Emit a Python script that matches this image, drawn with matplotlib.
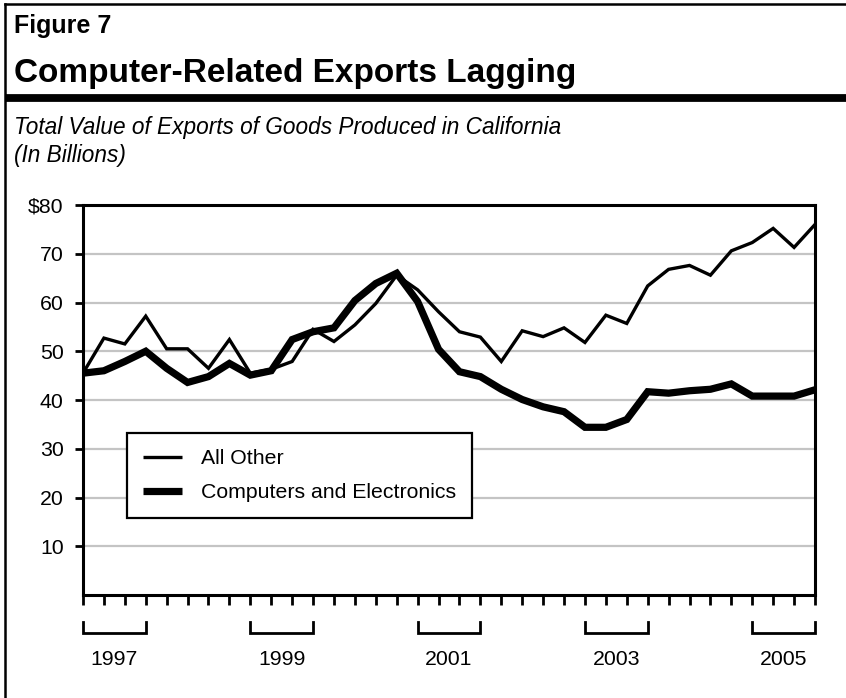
"""
Figure 7: computer-related exports lagging.

Quarterly value of California-produced exports, 1997 through 2005,
split into computers/electronics and everything else.
"""

import matplotlib
matplotlib.use("Agg")
import matplotlib.pyplot as plt
import matplotlib.transforms as mtransforms
from matplotlib.lines import Line2D

plt.rcParams['font.family'] = ['Liberation Sans', 'DejaVu Sans']

# Quarterly values, $ billions (1997 Q1 .. 2005 Q4)
years = [1997, 1998, 1999, 2000, 2001, 2002, 2003, 2004, 2005]
quarters = [f"{y} Q{q}" for y in years for q in range(1, 5)]

all_other = [
    45.5, 52.7, 51.5, 57.2,   # 1997
    50.5, 50.5, 46.5, 52.4,   # 1998
    45.5, 46.3, 47.9, 54.5,   # 1999
    52.0, 55.4, 59.8, 65.6,   # 2000
    62.6, 58.1, 54.0, 52.9,   # 2001
    47.9, 54.2, 53.0, 54.8,   # 2002
    51.8, 57.4, 55.7, 63.4,   # 2003
    66.8, 67.6, 65.6, 70.6,   # 2004
    72.3, 75.2, 71.3, 76.0,   # 2005
]

computers = [
    45.5, 46.0, 47.9, 50.0,
    46.5, 43.6, 44.8, 47.5,
    45.1, 46.0, 52.4, 54.0,
    54.8, 60.4, 63.9, 66.0,
    60.2, 50.4, 45.8, 44.8,
    42.2, 40.1, 38.6, 37.6,
    34.4, 34.4, 36.0, 41.7,
    41.4, 41.9, 42.2, 43.3,
    40.8, 40.8, 40.8, 42.1,
]

y_ticks = [10, 20, 30, 40, 50, 60, 70, 80]
y_tick_labels = ['10', '20', '30', '40', '50', '60', '70', '$80']
labelled_years = [1997, 1999, 2001, 2003, 2005]

W, H = 846, 698
fig = plt.figure(figsize=(W / 100, H / 100), dpi=100)

# --- frame and header -------------------------------------------------
fig.add_artist(Line2D([5 / W, 1], [1 - 4 / H, 1 - 4 / H], color='black',
                      linewidth=1.8, transform=fig.transFigure))
fig.add_artist(Line2D([5 / W, 5 / W], [0, 1 - 4 / H], color='black',
                      linewidth=1.8, transform=fig.transFigure))
fig.add_artist(Line2D([5 / W, 1], [1 - 98 / H, 1 - 98 / H], color='black',
                      linewidth=5.6, transform=fig.transFigure,
                      solid_capstyle='butt'))

fig.text(14 / W, 1 - 33 / H, "Figure 7", fontsize=18, fontweight='bold',
         va='baseline', ha='left')
fig.text(14 / W, 1 - 82 / H, "Computer-Related Exports Lagging",
         fontsize=24, fontweight='bold', va='baseline', ha='left')
fig.text(14 / W, 1 - 134 / H,
         "Total Value of Exports of Goods Produced in California",
         fontsize=16.3, style='italic', va='baseline', ha='left')
fig.text(14 / W, 1 - 162 / H, "(In Billions)", fontsize=16.3, style='italic',
         va='baseline', ha='left')

# --- chart -------------------------------------------------------------
ax = fig.add_axes([83 / W, 1 - 595 / H, (815 - 83) / W, (595 - 205) / H])

x = list(range(len(quarters)))
ax.plot(x, all_other, color='black', linewidth=2.4, label='All Other',
        solid_joinstyle='miter', zorder=3)
ax.plot(x, computers, color='black', linewidth=5.2,
        label='Computers and Electronics', solid_joinstyle='miter', zorder=4)

ax.set_xlim(0, len(quarters) - 1)
ax.set_ylim(0, 80)

ax.set_yticks(y_ticks)
ax.set_yticklabels(y_tick_labels)
ax.set_xticks(x)
ax.set_xticklabels([])

ax.yaxis.grid(True, color='#c4c4c4', linewidth=1.6)
ax.set_axisbelow(True)

for side in ['left', 'bottom', 'top', 'right']:
    ax.spines[side].set_linewidth(2.2)
ax.tick_params(axis='y', length=6, width=2, pad=8, labelsize=15.3)
ax.tick_params(axis='x', length=7.5, width=2, direction='out')

# year brackets under the quarter ticks
trans = mtransforms.blended_transform_factory(ax.transData, ax.transAxes)
for yr in labelled_years:
    i0 = quarters.index(f"{yr} Q1")
    i1 = quarters.index(f"{yr} Q4")
    ax.add_line(Line2D([i0, i0, i1, i1], [-0.069, -0.097, -0.097, -0.069],
                       color='black', linewidth=2.0, transform=trans,
                       clip_on=False, solid_joinstyle='miter'))
    ax.text((i0 + i1) / 2, -0.179, str(yr), transform=trans, fontsize=15.3,
            ha='center', va='baseline')

leg = ax.legend(loc='upper left', bbox_to_anchor=(0.06, 0.415),
                fontsize=15.3, frameon=True, fancybox=False, framealpha=1,
                edgecolor='black', handlelength=1.85, handletextpad=0.9,
                borderpad=0.75, labelspacing=0.7, borderaxespad=0)
leg.get_frame().set_linewidth(1.6)
for line in leg.get_lines():
    line.set_solid_capstyle('butt')

fig.savefig("out.png", dpi=100)
